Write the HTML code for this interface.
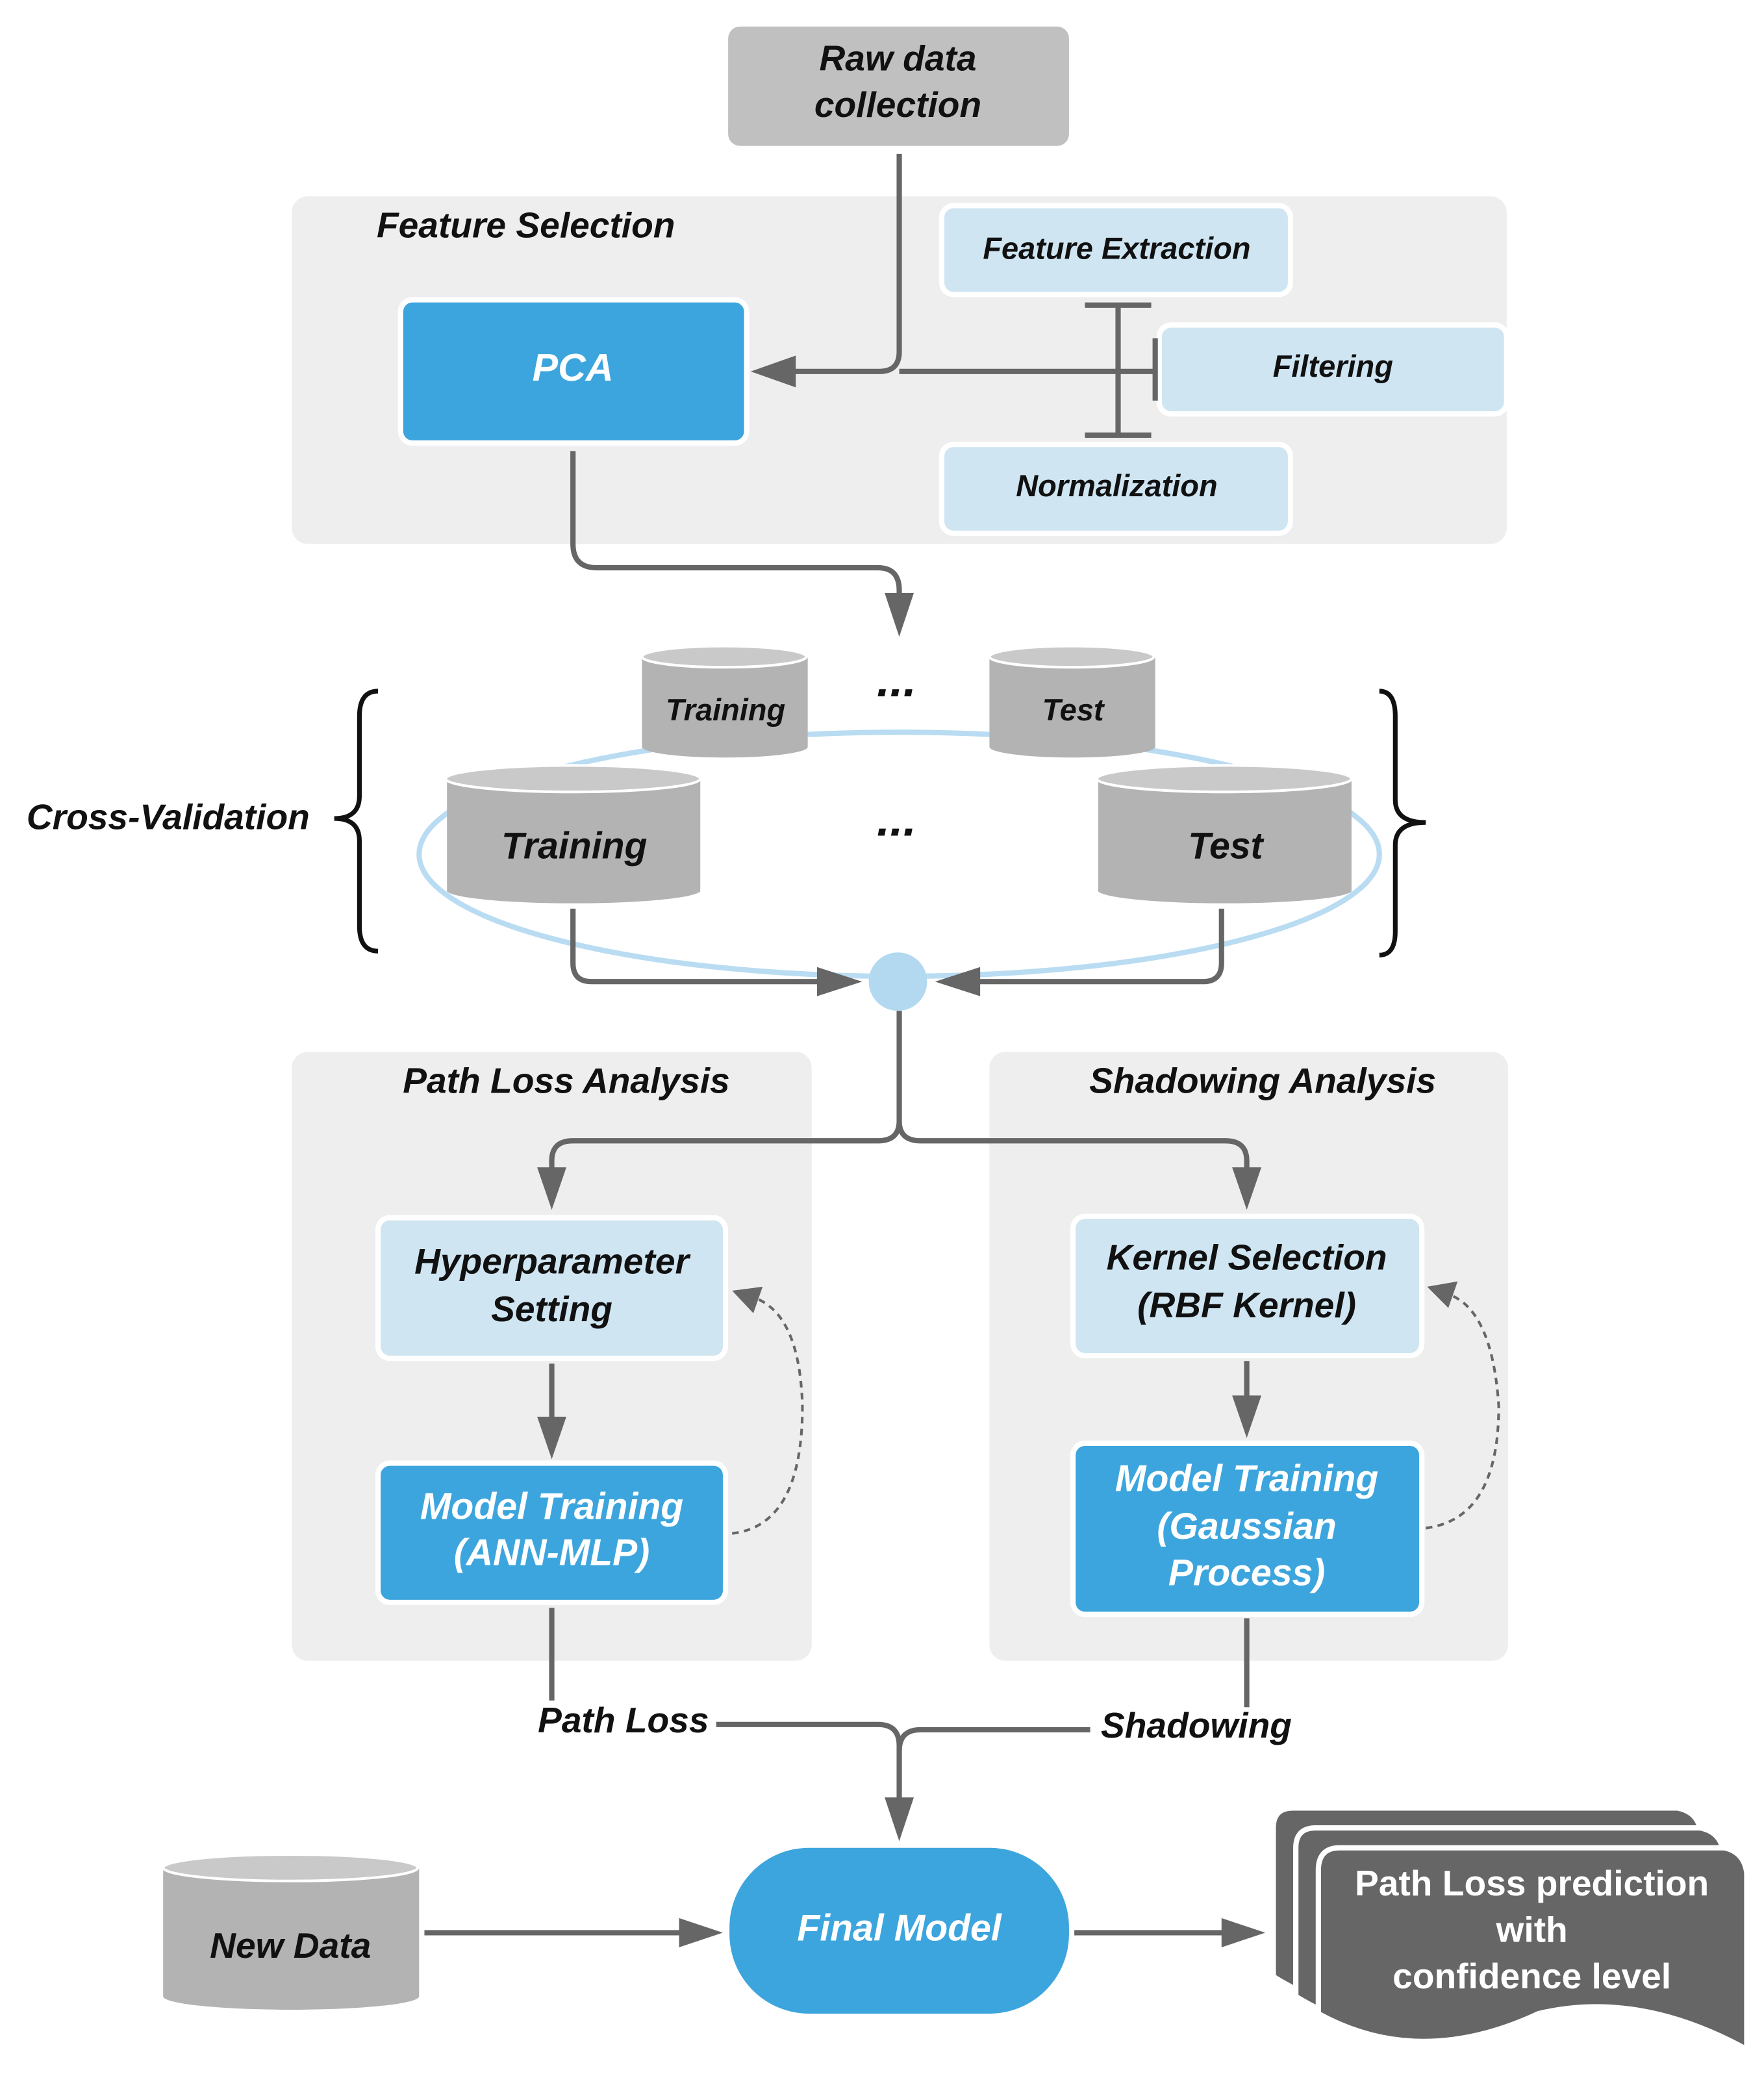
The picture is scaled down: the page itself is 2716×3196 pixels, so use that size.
<!DOCTYPE html>
<html><head><meta charset="utf-8"><style>
html,body{margin:0;padding:0;background:#fff;}
svg{display:block;}
text{font-family:"Liberation Sans",sans-serif;font-weight:bold;font-style:italic;}
</style></head><body>
<svg width="2716" height="3196" viewBox="0 0 1330 1565" xmlns="http://www.w3.org/2000/svg">
<rect width="1330" height="1565" fill="#fff"/>
<!-- panels -->
<rect x="220" y="148" width="916" height="262" rx="12" fill="#eeeeee"/>
<rect x="220" y="793" width="392" height="459" rx="12" fill="#eeeeee"/>
<rect x="746" y="793" width="391" height="459" rx="12" fill="#eeeeee"/>
<!-- raw data -->
<rect x="549" y="20" width="257" height="90" rx="9" fill="#c0c0c0"/>
<text x="677" y="53" font-size="27" text-anchor="middle" fill="#111">Raw data</text>
<text x="677" y="88" font-size="27" text-anchor="middle" fill="#111">collection</text>
<text x="284" y="179" font-size="27" fill="#111">Feature Selection</text>
<!-- feature boxes -->
<g stroke="#fff" stroke-width="4" fill="#cfe5f2">
<rect x="710" y="155" width="263" height="67" rx="9"/>
<rect x="874" y="245" width="262" height="67" rx="9"/>
<rect x="710" y="335" width="263" height="67" rx="9"/>
<rect x="302" y="226" width="261" height="108" rx="9" fill="#3da5dd"/>
</g>
<text x="842" y="195" font-size="23" text-anchor="middle" fill="#111">Feature Extraction</text>
<text x="1005" y="284" font-size="23" text-anchor="middle" fill="#111">Filtering</text>
<text x="842" y="374" font-size="23" text-anchor="middle" fill="#111">Normalization</text>
<text x="432" y="287" font-size="29" text-anchor="middle" fill="#fff">PCA</text>
<!-- connectors top -->
<g stroke="#666" stroke-width="4" fill="none">
<path d="M678 116 V265 Q678 280 663 280 H585"/>
<path d="M870 280 H678"/>
<path d="M843 230 V328 M818 230 H868 M818 328 H868"/>
<path d="M871 255 V302"/>
<path d="M432 340 V410 Q432 428 450 428 H662 Q678 428 678 445 V460"/>
</g>
<polygon points="566,280 600,268 600,292" fill="#666"/>
<polygon points="678,480 667,447 689,447" fill="#666"/>
<!-- cross validation -->
<ellipse cx="678" cy="644" rx="362" ry="92" fill="none" stroke="#b9dcf2" stroke-width="4"/>
<g>
<path d="M484 495 V563 A62 8 0 0 0 609 563 V495 Z" fill="#b3b3b3"/>
<ellipse cx="546" cy="495" rx="62" ry="8" fill="#c9c9c9" stroke="#fff" stroke-width="2"/>
<path d="M746 495 V563 A62 8 0 0 0 871 563 V495 Z" fill="#b3b3b3"/>
<ellipse cx="808" cy="495" rx="62" ry="8" fill="#c9c9c9" stroke="#fff" stroke-width="2"/>
<path d="M337 587 V672 A96 10 0 0 0 528 672 V587 Z" fill="#b3b3b3"/>
<ellipse cx="432" cy="587" rx="96" ry="10" fill="#c9c9c9" stroke="#fff" stroke-width="2"/>
<path d="M828 587 V672 A96 10 0 0 0 1019 672 V587 Z" fill="#b3b3b3"/>
<ellipse cx="923" cy="587" rx="96" ry="10" fill="#c9c9c9" stroke="#fff" stroke-width="2"/>
</g>
<text x="547" y="543" font-size="23" text-anchor="middle" fill="#111">Training</text>
<text x="809" y="543" font-size="23" text-anchor="middle" fill="#111">Test</text>
<text x="433" y="647" font-size="28" text-anchor="middle" fill="#111">Training</text>
<text x="924" y="647" font-size="28" text-anchor="middle" fill="#111">Test</text>
<text x="676" y="525" font-size="36" text-anchor="middle" fill="#111">...</text>
<text x="676" y="630" font-size="36" text-anchor="middle" fill="#111">...</text>
<text x="20" y="625" font-size="27" fill="#111">Cross-Validation</text>
<g stroke="#111" stroke-width="3.5" fill="none">
<path d="M285 521 Q271 521 271 540 V600 Q271 617 252 617 Q271 617 271 634 V698 Q271 717 285 717"/>
<path d="M1040 521 Q1052 521 1052 540 V603 Q1052 620 1075 620 Q1052 620 1052 637 V702 Q1052 720 1040 720"/>
</g>
<circle cx="677" cy="740" r="22" fill="#b3d9f1"/>
<g stroke="#666" stroke-width="4" fill="none">
<path d="M432 685 V726 Q432 740 446 740 H625"/>
<path d="M921 685 V726 Q921 740 907 740 H730"/>
<path d="M678 762 V845 Q678 860 662 860 H432 Q416 860 416 875 V885"/>
<path d="M678 845 Q678 860 694 860 H924 Q940 860 940 875 V885"/>
<path d="M416 1028 V1075"/>
<path d="M940 1026 V1060"/>
<path d="M416 1212 V1282"/>
<path d="M940 1220 V1287"/>
<path d="M540 1300 H662 Q678 1300 678 1316 V1360"/>
<path d="M822 1304 H694 Q678 1304 678 1320"/>
<path d="M320 1457 H518"/>
<path d="M810 1457 H925"/>
</g>
<polygon points="650,740 616,729 616,751" fill="#666"/>
<polygon points="705,740 739,729 739,751" fill="#666"/>
<polygon points="416,912 405,880 427,880" fill="#666"/>
<polygon points="940,912 929,880 951,880" fill="#666"/>
<polygon points="416,1100 405,1068 427,1068" fill="#666"/>
<polygon points="940,1084 929,1052 951,1052" fill="#666"/>
<polygon points="678,1388 667,1355 689,1355" fill="#666"/>
<polygon points="545,1457 512,1446 512,1468" fill="#666"/>
<polygon points="954,1457 921,1446 921,1468" fill="#666"/>
<text x="427" y="824" font-size="27" text-anchor="middle" fill="#111">Path Loss Analysis</text>
<text x="952" y="824" font-size="27" text-anchor="middle" fill="#111">Shadowing Analysis</text>
<g stroke="#fff" stroke-width="4">
<rect x="285" y="918" width="262" height="106" rx="9" fill="#cfe5f2"/>
<rect x="809" y="917" width="263" height="105" rx="9" fill="#cfe5f2"/>
<rect x="285" y="1103" width="262" height="105" rx="9" fill="#3da5dd"/>
<rect x="809" y="1088" width="263" height="129" rx="9" fill="#3da5dd"/>
</g>
<text x="416" y="960" font-size="27" text-anchor="middle" fill="#111">Hyperparameter</text>
<text x="416" y="996" font-size="27" text-anchor="middle" fill="#111">Setting</text>
<text x="940" y="957" font-size="27" text-anchor="middle" fill="#111">Kernel Selection</text>
<text x="940" y="993" font-size="27" text-anchor="middle" fill="#111">(RBF Kernel)</text>
<text x="416" y="1145" font-size="28" text-anchor="middle" fill="#fff">Model Training</text>
<text x="416" y="1180" font-size="28" text-anchor="middle" fill="#fff">(ANN-MLP)</text>
<text x="940" y="1124" font-size="28" text-anchor="middle" fill="#fff">Model Training</text>
<text x="940" y="1160" font-size="28" text-anchor="middle" fill="#fff">(Gaussian</text>
<text x="940" y="1195" font-size="28" text-anchor="middle" fill="#fff">Process)</text>
<g stroke="#666" stroke-width="2" stroke-dasharray="5,4" fill="none">
<path d="M552 1156 Q605 1150 605 1060 Q603 990 568 978"/>
<path d="M1075 1152 Q1130 1145 1130 1060 Q1125 985 1090 975"/>
</g>
<polygon points="552,973 575,970 568,990" fill="#666"/>
<polygon points="1076,970 1099,966 1092,986" fill="#666"/>
<text x="470" y="1306" font-size="27" text-anchor="middle" fill="#111">Path Loss</text>
<text x="902" y="1310" font-size="27" text-anchor="middle" fill="#111">Shadowing</text>
<!-- new data -->
<path d="M123 1408 V1505 A96 10 0 0 0 316 1505 V1408 Z" fill="#b3b3b3"/>
<ellipse cx="219" cy="1408" rx="96" ry="10" fill="#c9c9c9" stroke="#fff" stroke-width="2"/>
<text x="219" y="1476" font-size="27" text-anchor="middle" fill="#111">New Data</text>
<rect x="550" y="1393" width="256" height="125" rx="60" fill="#3da5dd"/>
<text x="678" y="1463" font-size="28" text-anchor="middle" fill="#fff">Final Model</text>
<!-- documents -->
<g fill="#666" stroke="#fff" stroke-width="4">
<path d="M960 1378 Q960 1363 975 1363 H1265 Q1280 1366 1282 1380 V1520 Q1200 1480 1120 1505 Q1030 1535 960 1490 Z"/>
<path d="M977 1393 Q977 1378 992 1378 H1282 Q1297 1381 1299 1395 V1530 Q1215 1495 1137 1520 Q1050 1550 977 1505 Z"/>
<path d="M994 1410 Q994 1393 1010 1393 H1300 Q1315 1396 1317 1412 V1545 Q1235 1500 1160 1518 Q1070 1560 994 1518 Z"/>
</g>
<text x="1155" y="1429" font-size="27" text-anchor="middle" fill="#fff" style="font-style:normal">Path Loss prediction</text>
<text x="1155" y="1464" font-size="27" text-anchor="middle" fill="#fff" style="font-style:normal">with</text>
<text x="1155" y="1499" font-size="27" text-anchor="middle" fill="#fff" style="font-style:normal">confidence level</text>
</svg>
</body></html>
